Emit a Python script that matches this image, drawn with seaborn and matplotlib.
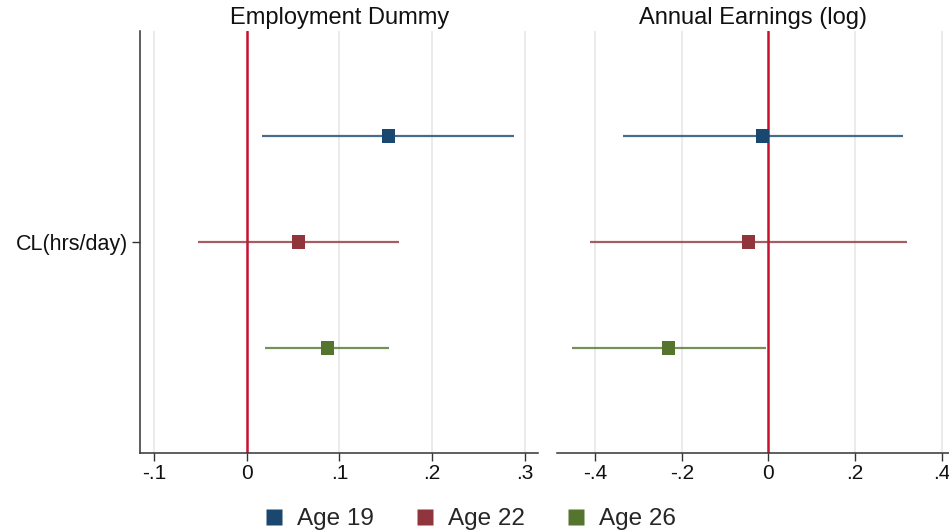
import matplotlib
matplotlib.use("Agg")
import matplotlib.pyplot as plt
from matplotlib.lines import Line2D
import numpy as np
import pandas as pd
import seaborn as sns

# Coefficient estimates and 95% confidence bounds by age group
groups = ["Age 19", "Age 22", "Age 26"]
emp_coef = [0.153, 0.056, 0.087]
emp_lo = [0.017, -0.052, 0.020]
emp_hi = [0.288, 0.164, 0.153]
earn_coef = [-0.014, -0.046, -0.231]
earn_lo = [-0.336, -0.412, -0.454]
earn_hi = [0.311, 0.319, -0.006]
panel_titles = ["Employment Dummy", "Annual Earnings (log)"]
ylabel_text = "CL(hrs/day)"
emp_ticks = [-0.1, 0, 0.1, 0.2, 0.3]
emp_tick_labels = ["-.1", "0", ".1", ".2", ".3"]
earn_ticks = [-0.4, -0.2, 0, 0.2, 0.4]
earn_tick_labels = ["-.4", "-.2", "0", ".2", ".4"]

offsets = [0.25, 0.0, -0.25]
palette = ["#1a476f", "#90353b", "#55752f"]
ref_color = "#c8102e"
grid_color = "#e6e6e6"

sns.set_theme(style="white")
plt.rcParams["font.family"] = ["Liberation Sans", "DejaVu Sans"]

fig = plt.figure(figsize=(9.49, 5.31), dpi=100)
ax1 = fig.add_axes([0.148, 0.147, 0.419, 0.795])
ax2 = fig.add_axes([0.587, 0.147, 0.413, 0.795])

panels = [
    (ax1, emp_coef, emp_lo, emp_hi, emp_ticks, emp_tick_labels, (-0.1146, 0.3143)),
    (ax2, earn_coef, earn_lo, earn_hi, earn_ticks, earn_tick_labels, (-0.4877, 0.417)),
]

for i, (ax, coef, lo, hi, ticks, tlabels, xlim) in enumerate(panels):
    df = pd.DataFrame({"group": groups, "coef": coef, "lo": lo, "hi": hi, "y": offsets})
    for t in ticks:
        if t != 0:
            ax.axvline(t, color=grid_color, lw=1.1, zorder=0)
    ax.axvline(0, color=ref_color, lw=1.8, zorder=1)
    for _, row in df.iterrows():
        c = palette[groups.index(row["group"])]
        ax.hlines(row["y"], row["lo"], row["hi"], color=c, lw=1.6, alpha=0.8, zorder=2)
    sns.scatterplot(data=df, x="coef", y="y", hue="group", palette=palette,
                    marker="s", s=95, edgecolor="none", legend=False, ax=ax, zorder=3)
    ax.set_xlim(*xlim)
    ax.set_ylim(-0.4976, 0.4976)
    ax.set_xticks(ticks)
    ax.set_xticklabels(tlabels, fontsize=15)
    ax.set_xlabel("")
    ax.set_ylabel("")
    ax.set_title(panel_titles[i], fontsize=17, pad=5, color="#111111")
    ax.tick_params(axis="x", direction="out", length=6, width=1, color="#333333",
                   bottom=True, pad=2, labelcolor="#111111")
    for s in ["top", "right"]:
        ax.spines[s].set_visible(False)
    ax.spines["bottom"].set_color("#333333")
    ax.spines["bottom"].set_linewidth(1.1)
    ax.set_facecolor("white")

ax1.set_yticks([0])
ax1.set_yticklabels([ylabel_text], fontsize=15.5)
ax1.tick_params(axis="y", direction="out", length=6, width=1, color="#333333",
                left=True, pad=3, labelcolor="#111111")
ax1.spines["left"].set_color("#333333")
ax1.spines["left"].set_linewidth(1.1)
ax2.set_yticks([])
ax2.spines["left"].set_visible(False)

handles = [Line2D([0], [0], marker="s", linestyle="none", markersize=11,
                  markerfacecolor=c, markeredgecolor="none") for c in palette]
fig.legend(handles, groups, loc="lower center", ncol=3, frameon=False,
           bbox_to_anchor=(0.488, -0.04), fontsize=17.5, handletextpad=-0.05,
           columnspacing=1.1)

fig.savefig("out.png", dpi=100, facecolor="white")
